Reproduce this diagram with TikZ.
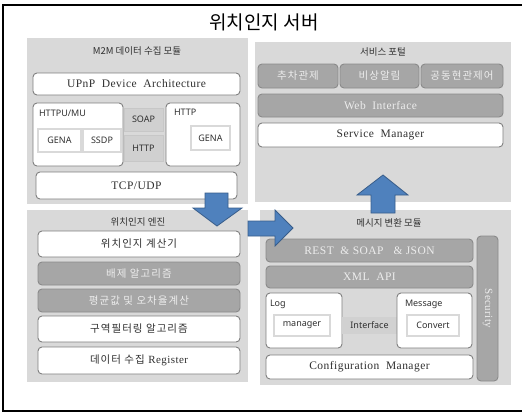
\documentclass[tikz,border=0pt]{standalone}
\usepackage{fontspec}
\setmainfont{Liberation Serif}[LetterSpace=4]
\newfontfamily\kr{Noto Sans CJK KR}
\newfontfamily\krs{Noto Sans CJK KR}[LetterSpace=10]
\newfontfamily\snf{Noto Sans}
\definecolor{panel}{HTML}{D9D9D9}
\definecolor{gbox}{HTML}{A6A6A6}
\definecolor{gline}{HTML}{8A8A8A}
\definecolor{wline}{HTML}{7F7F7F}
\definecolor{abl}{HTML}{4F81BD}
\definecolor{abd}{HTML}{385D8A}
\definecolor{mid}{HTML}{D0D0D0}
\definecolor{txt}{HTML}{303030}
\tikzset{
  base/.style={inner sep=0pt,outer sep=0pt,align=center,text=txt},
  wbox/.style={base,draw=wline,fill=white,line width=0.9pt,rounded corners=4pt},
  gboxs/.style={base,draw=gline,fill=gbox,line width=0.9pt,rounded corners=4pt,text=white!93!black},
  inbox/.style={base,draw=black!15,fill=white,line width=1.2pt},
  midbox/.style={base,draw=black!22,fill=mid,line width=1pt},
  pnl/.style={base,fill=panel},
  blk/.style={fill=abl,draw=abd,line width=0.8pt,line join=miter},
  kbt/.style={font=\krs\fontsize{10.5}{12}\selectfont},
  lbt/.style={font=\fontsize{11.5}{13}\selectfont},
  sbt/.style={font=\snf\fontsize{9}{10}\selectfont},
  ptitle/.style={base,font=\kr\fontsize{9.5}{11}\selectfont},
}
\newcommand\boxat[7]{\node[#1,minimum width={(#5-#3)*1pt},minimum height={(#6-#4)*1pt}] (#2) at ({(#3+#5)/2},{(#4+#6)/2}) {#7};}
\begin{document}
\begin{tikzpicture}[x=1pt,y=-1pt]
\useasboundingbox (0,0) rectangle (522,413);
% frame
\coordinate (ftr) at (522,5);
\coordinate (ftl) at (3,5);
\coordinate (fbl) at (3,411);
\coordinate (fbr) at (522,411);
\draw[line width=2pt,black] (ftr) -- (ftl) -- (fbl) -- (fbr);
\node[base,text=black,font=\kr\fontsize{19}{21}\selectfont] (title) at (264,22) {위치인지 서버};
% panels
\boxat{pnl}{p1}{27}{38}{248}{204}{}
\boxat{pnl}{p2}{255}{42}{511}{202}{}
\boxat{pnl}{p3}{27}{210}{248}{382}{}
\boxat{pnl}{p4}{260}{210}{511}{385}{}
% P1
\node[ptitle] (t1) at (137,51) {M2M 데이터 수집 모듈};
\boxat{wbox,lbt}{upnp}{33}{73}{240}{95}{UPnP\ \ Device\ \ Architecture}
\boxat{wbox}{httpu}{33}{103}{123}{166}{}
\node[base,anchor=west,sbt] (httpul) at (39,113) {HTTPU/MU};
\boxat{inbox,sbt}{gena1}{38}{129}{81}{152}{GENA}
\boxat{inbox,sbt}{ssdp}{83}{129}{121}{152}{SSDP}
\boxat{midbox,sbt}{soap}{124}{108}{163}{131}{SOAP}
\boxat{midbox,sbt}{http1}{124}{135}{163}{161}{HTTP}
\boxat{wbox}{httpbox}{166}{103}{240}{166}{}
\node[base,anchor=west,sbt] (httpl) at (174,112) {HTTP};
\boxat{inbox,sbt}{gena2}{191}{126}{230}{150}{GENA}
\boxat{wbox,lbt}{tcp}{36}{172}{237}{199}{TCP/UDP}
% P2
\node[ptitle] (t2) at (383,52) {서비스 포털};
\boxat{gboxs,kbt}{b1}{258}{64}{338}{88}{추차관제}
\boxat{gboxs,kbt}{b2}{340}{64}{419}{88}{비상알림}
\boxat{gboxs,kbt}{b3}{421}{64}{503}{88}{공동현관제어}
\boxat{gboxs,lbt}{web}{258}{94}{503}{117}{Web\ \ Interface}
\boxat{wbox,lbt}{svc}{258}{123}{503}{147}{Service\ \ Manager}
% P3
\node[ptitle] (t3) at (138,222) {위치인지 엔진};
\boxat{wbox,kbt}{e1}{38}{231}{240}{257}{위치인지 계산기}
\boxat{gboxs,kbt}{e2}{38}{262}{240}{285}{배제 알고리즘}
\boxat{gboxs,kbt}{e3}{38}{289}{240}{312}{평균값 및 오차율계산}
\boxat{wbox,kbt}{e4}{38}{316}{240}{342}{구역필터링 알고리즘}
\boxat{wbox,kbt}{e5}{38}{347}{240}{374}{데이터 수집 {\rmfamily\fontsize{11}{12}\selectfont Register}}
% P4
\node[ptitle] (t4) at (389,223) {메시지 변환 모듈};
\boxat{gboxs,lbt}{rest}{266}{239}{473}{262}{REST\ \ \&\ SOAP\ \ \ \&\ JSON}
\boxat{gboxs,lbt}{xml}{266}{266}{473}{288}{XML\ \ API}
\boxat{wbox}{log}{266}{293}{342}{348}{}
\node[base,anchor=west,sbt] (logl) at (270,304) {Log};
\boxat{inbox,sbt}{mgr}{274}{315}{330}{336}{manager}
\boxat{midbox,draw=none,fill=black!18,sbt}{intf}{342}{317}{397}{334}{Interface}
\boxat{wbox}{msg}{397}{293}{472}{348}{}
\node[base,anchor=west,sbt] (msgl) at (405,304) {Message};
\boxat{inbox,sbt}{conv}{407}{315}{459}{336}{Convert}
\boxat{wbox,lbt}{cfg}{266}{355}{473}{379}{Configuration\ \ Manager}
\boxat{gboxs}{sec}{477}{236}{498}{381}{}
\node[base,text=white!93!black,rotate=-90,font=\fontsize{11}{12}\selectfont] (secl) at (sec.center) {Security};
% arrows
\draw[blk] (205,193) -- (228,193) -- (228,208) -- (242,208) -- (217,226) -- (193,208) -- (205,208) -- cycle;
\draw[blk] (248,221) -- (275,221) -- (275,210) -- (293,228) -- (275,246) -- (275,236) -- (248,236) -- cycle;
\draw[blk] (371,213) -- (371,195) -- (357,195) -- (383,175) -- (408,195) -- (395,195) -- (395,213) -- cycle;
\end{tikzpicture}
\end{document}
